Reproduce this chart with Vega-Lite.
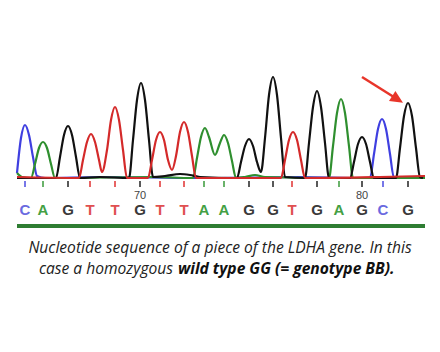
{
  "$schema": "https://vega.github.io/schema/vega-lite/v6.json",
  "width": 440,
  "height": 352,
  "autosize": {"type": "none"},
  "padding": 0,
  "background": "white",
  "config": {"view": {"stroke": null}, "axis": {"disable": true}},
  "datasets": {
    "trace": [
      {"ch": "C", "scan": 17, "signal": 5}, {"ch": "C", "scan": 21, "signal": 40}, {"ch": "C", "scan": 25, "signal": 53}, {"ch": "C", "scan": 29, "signal": 43}, {"ch": "C", "scan": 33, "signal": 21}, {"ch": "C", "scan": 37, "signal": 2}, {"ch": "C", "scan": 45, "signal": 0}, {"ch": "C", "scan": 100, "signal": 1}, {"ch": "C", "scan": 200, "signal": 0}, {"ch": "C", "scan": 300, "signal": 1}, {"ch": "C", "scan": 365, "signal": 0}, {"ch": "C", "scan": 370, "signal": 0}, {"ch": "C", "scan": 374, "signal": 24}, {"ch": "C", "scan": 378, "signal": 49}, {"ch": "C", "scan": 382, "signal": 59}, {"ch": "C", "scan": 386, "signal": 49}, {"ch": "C", "scan": 390, "signal": 24}, {"ch": "C", "scan": 394, "signal": 0}, {"ch": "C", "scan": 425, "signal": 0},
      {"ch": "A", "scan": 17, "signal": 5}, {"ch": "A", "scan": 22, "signal": 1}, {"ch": "A", "scan": 31, "signal": 0}, {"ch": "A", "scan": 35, "signal": 14}, {"ch": "A", "scan": 39, "signal": 30}, {"ch": "A", "scan": 43, "signal": 36}, {"ch": "A", "scan": 47, "signal": 30}, {"ch": "A", "scan": 51, "signal": 14}, {"ch": "A", "scan": 55, "signal": 0}, {"ch": "A", "scan": 62, "signal": 0}, {"ch": "A", "scan": 150, "signal": 1}, {"ch": "A", "scan": 193, "signal": 0}, {"ch": "A", "scan": 197, "signal": 20}, {"ch": "A", "scan": 201, "signal": 41}, {"ch": "A", "scan": 205, "signal": 50}, {"ch": "A", "scan": 209, "signal": 41}, {"ch": "A", "scan": 215, "signal": 23}, {"ch": "A", "scan": 220, "signal": 35}, {"ch": "A", "scan": 224, "signal": 43}, {"ch": "A", "scan": 228, "signal": 35}, {"ch": "A", "scan": 232, "signal": 17}, {"ch": "A", "scan": 236, "signal": 0}, {"ch": "A", "scan": 245, "signal": 1}, {"ch": "A", "scan": 255, "signal": 3}, {"ch": "A", "scan": 265, "signal": 1}, {"ch": "A", "scan": 329, "signal": 0}, {"ch": "A", "scan": 333, "signal": 32}, {"ch": "A", "scan": 337, "signal": 65}, {"ch": "A", "scan": 341, "signal": 79}, {"ch": "A", "scan": 345, "signal": 65}, {"ch": "A", "scan": 349, "signal": 32}, {"ch": "A", "scan": 353, "signal": 0}, {"ch": "A", "scan": 425, "signal": 0},
      {"ch": "G", "scan": 17, "signal": 0}, {"ch": "G", "scan": 56, "signal": 0}, {"ch": "G", "scan": 60, "signal": 21}, {"ch": "G", "scan": 64, "signal": 43}, {"ch": "G", "scan": 68, "signal": 52}, {"ch": "G", "scan": 72, "signal": 43}, {"ch": "G", "scan": 76, "signal": 21}, {"ch": "G", "scan": 80, "signal": 0}, {"ch": "G", "scan": 100, "signal": 1}, {"ch": "G", "scan": 129, "signal": 0}, {"ch": "G", "scan": 133, "signal": 38}, {"ch": "G", "scan": 137, "signal": 78}, {"ch": "G", "scan": 141, "signal": 95}, {"ch": "G", "scan": 145, "signal": 78}, {"ch": "G", "scan": 149, "signal": 38}, {"ch": "G", "scan": 153, "signal": 1}, {"ch": "G", "scan": 165, "signal": 2}, {"ch": "G", "scan": 180, "signal": 4}, {"ch": "G", "scan": 190, "signal": 3}, {"ch": "G", "scan": 200, "signal": 1}, {"ch": "G", "scan": 237, "signal": 0}, {"ch": "G", "scan": 241, "signal": 16}, {"ch": "G", "scan": 245, "signal": 32}, {"ch": "G", "scan": 249, "signal": 39}, {"ch": "G", "scan": 253, "signal": 32}, {"ch": "G", "scan": 257, "signal": 16}, {"ch": "G", "scan": 261, "signal": 6}, {"ch": "G", "scan": 265, "signal": 40}, {"ch": "G", "scan": 269, "signal": 83}, {"ch": "G", "scan": 273, "signal": 101}, {"ch": "G", "scan": 277, "signal": 83}, {"ch": "G", "scan": 281, "signal": 40}, {"ch": "G", "scan": 285, "signal": 1}, {"ch": "G", "scan": 305, "signal": 0}, {"ch": "G", "scan": 309, "signal": 35}, {"ch": "G", "scan": 313, "signal": 71}, {"ch": "G", "scan": 317, "signal": 87}, {"ch": "G", "scan": 321, "signal": 71}, {"ch": "G", "scan": 325, "signal": 35}, {"ch": "G", "scan": 329, "signal": 0}, {"ch": "G", "scan": 350, "signal": 0}, {"ch": "G", "scan": 354, "signal": 16}, {"ch": "G", "scan": 358, "signal": 34}, {"ch": "G", "scan": 362, "signal": 41}, {"ch": "G", "scan": 366, "signal": 34}, {"ch": "G", "scan": 370, "signal": 16}, {"ch": "G", "scan": 374, "signal": 0}, {"ch": "G", "scan": 396, "signal": 0}, {"ch": "G", "scan": 400, "signal": 30}, {"ch": "G", "scan": 404, "signal": 62}, {"ch": "G", "scan": 408, "signal": 75}, {"ch": "G", "scan": 412, "signal": 62}, {"ch": "G", "scan": 416, "signal": 30}, {"ch": "G", "scan": 420, "signal": 1}, {"ch": "G", "scan": 423, "signal": 0},
      {"ch": "T", "scan": 17, "signal": 1}, {"ch": "T", "scan": 79, "signal": 0}, {"ch": "T", "scan": 83, "signal": 18}, {"ch": "T", "scan": 87, "signal": 36}, {"ch": "T", "scan": 91, "signal": 44}, {"ch": "T", "scan": 95, "signal": 36}, {"ch": "T", "scan": 99, "signal": 18}, {"ch": "T", "scan": 102, "signal": 6}, {"ch": "T", "scan": 107, "signal": 28}, {"ch": "T", "scan": 111, "signal": 58}, {"ch": "T", "scan": 115, "signal": 71}, {"ch": "T", "scan": 119, "signal": 58}, {"ch": "T", "scan": 123, "signal": 28}, {"ch": "T", "scan": 127, "signal": 0}, {"ch": "T", "scan": 148, "signal": 0}, {"ch": "T", "scan": 152, "signal": 18}, {"ch": "T", "scan": 156, "signal": 38}, {"ch": "T", "scan": 160, "signal": 46}, {"ch": "T", "scan": 164, "signal": 38}, {"ch": "T", "scan": 168, "signal": 18}, {"ch": "T", "scan": 172, "signal": 8}, {"ch": "T", "scan": 176, "signal": 22}, {"ch": "T", "scan": 180, "signal": 46}, {"ch": "T", "scan": 184, "signal": 56}, {"ch": "T", "scan": 188, "signal": 46}, {"ch": "T", "scan": 192, "signal": 22}, {"ch": "T", "scan": 196, "signal": 0}, {"ch": "T", "scan": 281, "signal": 0}, {"ch": "T", "scan": 285, "signal": 18}, {"ch": "T", "scan": 289, "signal": 38}, {"ch": "T", "scan": 293, "signal": 46}, {"ch": "T", "scan": 297, "signal": 38}, {"ch": "T", "scan": 301, "signal": 18}, {"ch": "T", "scan": 305, "signal": 0}, {"ch": "T", "scan": 380, "signal": 1}, {"ch": "T", "scan": 425, "signal": 2}
    ],
    "calls": [
      {"pos": 65, "base": "C", "scan": 25}, {"pos": 66, "base": "A", "scan": 43}, {"pos": 67, "base": "G", "scan": 68}, {"pos": 68, "base": "T", "scan": 90},
      {"pos": 69, "base": "T", "scan": 115}, {"pos": 70, "base": "G", "scan": 140}, {"pos": 71, "base": "T", "scan": 160}, {"pos": 72, "base": "T", "scan": 184},
      {"pos": 73, "base": "A", "scan": 204}, {"pos": 74, "base": "A", "scan": 224}, {"pos": 75, "base": "G", "scan": 249}, {"pos": 76, "base": "G", "scan": 273},
      {"pos": 77, "base": "T", "scan": 292}, {"pos": 78, "base": "G", "scan": 317}, {"pos": 79, "base": "A", "scan": 339}, {"pos": 80, "base": "G", "scan": 362},
      {"pos": 81, "base": "C", "scan": 383}, {"pos": 82, "base": "G", "scan": 408}
    ]
  },
  "resolve": {"scale": {"color": "independent"}},
  "layer": [
    {
      "data": {"values": [{"track": "sequence"}]},
      "mark": {"type": "rect", "color": "#2e7d32"},
      "encoding": {
        "x": {"datum": 17, "type": "quantitative", "scale": {"domain": [0, 440], "nice": false, "zero": false}},
        "x2": {"datum": 425},
        "y": {"datum": -46, "type": "quantitative", "scale": {"domain": [-174, 178], "nice": false, "zero": false}},
        "y2": {"datum": -50}
      }
    },
    {
      "data": {"name": "trace"},
      "mark": {"type": "line", "interpolate": "monotone", "strokeWidth": 2.2},
      "encoding": {
        "x": {"field": "scan", "type": "quantitative"},
        "y": {"field": "signal", "type": "quantitative"},
        "color": {"field": "ch", "type": "nominal", "legend": null, "sort": ["C", "A", "G", "T"],
          "scale": {"domain": ["C", "A", "G", "T"], "range": ["#3f3fe0", "#2f8f2f", "#111111", "#d42a2a"]}},
        "order": {"field": "scan", "type": "quantitative"}
      }
    },
    {
      "data": {"name": "calls"},
      "mark": {"type": "rule", "strokeWidth": 1.5},
      "encoding": {
        "x": {"field": "scan", "type": "quantitative"},
        "y": {"datum": -3},
        "y2": {"datum": -9},
        "color": {"field": "base", "type": "nominal", "legend": null,
          "scale": {"domain": ["C", "A", "G", "T"], "range": ["#4a4ae0", "#3a9a3a", "#222222", "#e03030"]}}
      }
    },
    {
      "data": {"name": "calls"},
      "transform": [{"filter": "datum.pos % 10 == 0"}],
      "mark": {"type": "text", "font": "Liberation Sans", "fontSize": 11, "color": "#444444", "baseline": "middle"},
      "encoding": {
        "x": {"field": "scan", "type": "quantitative"},
        "y": {"datum": -18},
        "text": {"field": "pos"}
      }
    },
    {
      "data": {"name": "calls"},
      "mark": {"type": "text", "font": "Liberation Sans", "fontSize": 15, "fontWeight": "bold", "baseline": "middle"},
      "encoding": {
        "x": {"field": "scan", "type": "quantitative"},
        "y": {"datum": -32},
        "text": {"field": "base"},
        "color": {"field": "base", "type": "nominal", "legend": null,
          "scale": {"domain": ["C", "A", "G", "T"], "range": ["#6a6ae0", "#44a044", "#3a3a3a", "#e05050"]}}
      }
    },
    {
      "data": {"values": [{"note": "arrow"}]},
      "mark": {"type": "rule", "color": "#e8352a", "strokeWidth": 2.5},
      "encoding": {
        "x": {"datum": 362}, "x2": {"datum": 397},
        "y": {"datum": 101}, "y2": {"datum": 79}
      }
    },
    {
      "data": {"values": [{"note": "arrowhead"}]},
      "mark": {"type": "point", "shape": "M0,-1L0.85,0.8L-0.85,0.8Z", "filled": true, "color": "#e8352a", "opacity": 1, "size": 200, "angle": 122},
      "encoding": {
        "x": {"datum": 397},
        "y": {"datum": 79}
      }
    },
    {
      "data": {"values": [{"text": "Nucleotide sequence of a piece of the LDHA gene. In this"}]},
      "mark": {"type": "text", "font": "Open Sans", "fontSize": 15.6, "fontStyle": "italic", "color": "#222222", "align": "center", "baseline": "middle"},
      "encoding": {"x": {"datum": 220}, "y": {"datum": -70}, "text": {"field": "text"}}
    },
    {
      "data": {"values": [{"text": "case a homozygous"}]},
      "mark": {"type": "text", "font": "Open Sans", "fontSize": 15.6, "fontStyle": "italic", "color": "#222222", "align": "right", "baseline": "middle"},
      "encoding": {"x": {"datum": 173}, "y": {"datum": -91}, "text": {"field": "text"}}
    },
    {
      "data": {"values": [{"text": "wild type GG (= genotype BB)."}]},
      "mark": {"type": "text", "font": "Open Sans", "fontSize": 15.6, "fontStyle": "italic", "fontWeight": "bold", "color": "#111111", "align": "left", "baseline": "middle"},
      "encoding": {"x": {"datum": 178}, "y": {"datum": -91}, "text": {"field": "text"}}
    }
  ]
}
